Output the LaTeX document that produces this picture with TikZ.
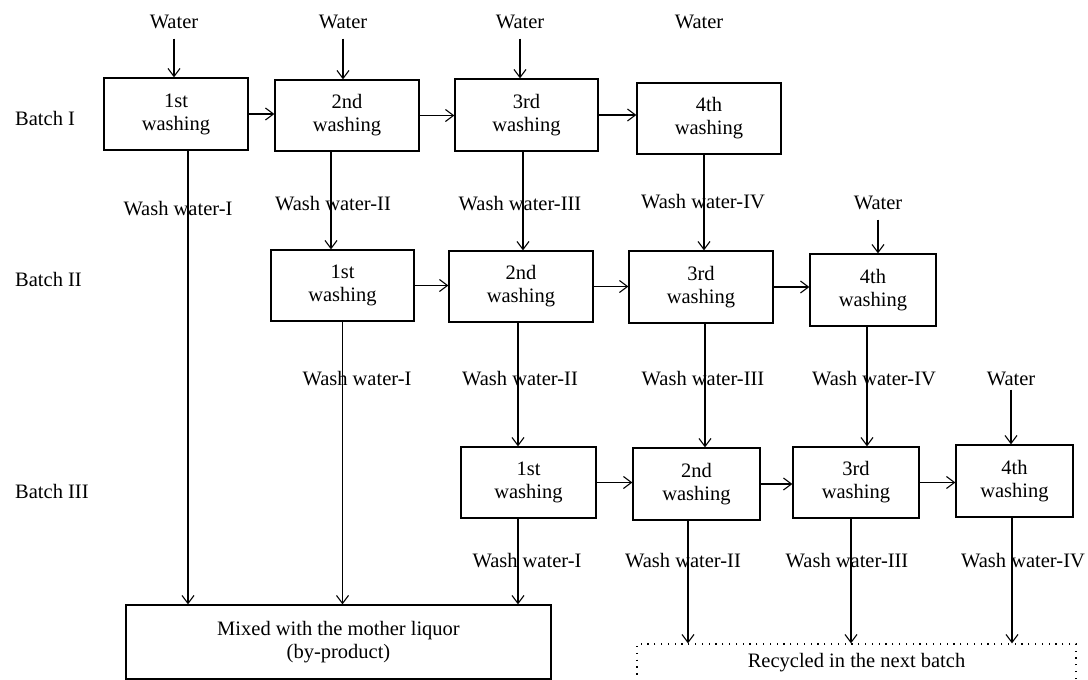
\documentclass[tikz,border=0pt]{standalone}
\usepackage{fontspec}
\setmainfont{Liberation Serif}
\usetikzlibrary{arrows.meta}
\begin{document}
\begin{tikzpicture}[x=1pt,y=-1pt,
  every node/.style={font=\fontsize{20.5}{23}\selectfont},
  wbox/.style={draw, line width=1.3pt, align=center, inner sep=0pt},
  recbox/.style={draw, line width=1.3pt, dash pattern=on 1.3pt off 5.5pt, align=center, inner sep=0pt},
  lbl/.style={anchor=base, inner sep=0pt},
  arr/.style={line width=1.1pt, -{Straight Barb[length=8pt,width=12pt]}},
  ln/.style={line width=1.1pt}]
\useasboundingbox (0,0) rectangle (1088,680);
\clip (0,0) rectangle (1088,680);

% batch labels
\node[anchor=base west, inner sep=0pt] (bI) at (15,125) {Batch I};
\node[anchor=base west, inner sep=0pt] (bII) at (15,286) {Batch II};
\node[anchor=base west, inner sep=0pt] (bIII) at (15,498) {Batch III};

% row 1
\node[wbox, minimum width=144pt, minimum height=72pt] (b11) at (176,114) {1st\\washing};
\node[wbox, minimum width=144pt, minimum height=71pt] (b12) at (347,115.5) {2nd\\washing};
\node[wbox, minimum width=143pt, minimum height=72pt] (b13) at (526.5,115) {3rd\\washing};
\node[wbox, minimum width=144pt, minimum height=71pt] (b14) at (709,118.5) {4th\\washing};
% row 2
\node[wbox, minimum width=143pt, minimum height=71pt] (b21) at (342.5,285.5) {1st\\washing};
\node[wbox, minimum width=144pt, minimum height=71pt] (b22) at (521,286.5) {2nd\\washing};
\node[wbox, minimum width=144pt, minimum height=72pt] (b23) at (701,287) {3rd\\washing};
\node[wbox, minimum width=126pt, minimum height=72pt] (b24) at (873,290) {4th\\washing};
% row 3
\node[wbox, minimum width=135pt, minimum height=71pt] (b31) at (528.5,482.5) {1st\\washing};
\node[wbox, minimum width=127pt, minimum height=72pt] (b32) at (696.5,484) {2nd\\washing};
\node[wbox, minimum width=126pt, minimum height=71pt] (b33) at (856,482.5) {3rd\\washing};
\node[wbox, minimum width=117pt, minimum height=72pt] (b34) at (1014.5,481) {4th\\washing};
% sinks
\node[wbox, minimum width=425pt, minimum height=74pt] (mix) at (338.5,642) {Mixed with the mother liquor\\(by-product)};
\node[recbox, minimum width=439pt, minimum height=38pt] (rec) at (856.5,663) {Recycled in the next batch};

% water labels
\node[lbl] (w1) at (174,28) {Water};
\node[lbl] (w2) at (343,28) {Water};
\node[lbl] (w3) at (520,28) {Water};
\node[lbl] (w4) at (699,28) {Water};
\node[lbl] (w5) at (878,209) {Water};
\node[lbl] (w6) at (1011,385) {Water};

% wash water labels
\node[lbl] (ww11) at (178,215) {Wash water-I};
\node[lbl] (ww12) at (333,210) {Wash water-II};
\node[lbl] (ww13) at (520,210) {Wash water-III};
\node[lbl] (ww14) at (703,208) {Wash water-IV};
\node[lbl] (ww21) at (357,385) {Wash water-I};
\node[lbl] (ww22) at (520,385) {Wash water-II};
\node[lbl] (ww23) at (703,385) {Wash water-III};
\node[lbl] (ww24) at (874,385) {Wash water-IV};
\node[lbl] (ww31) at (527,567) {Wash water-I};
\node[lbl] (ww32) at (683,567) {Wash water-II};
\node[lbl] (ww33) at (847,567) {Wash water-III};
\node[lbl] (ww34) at (1023,567) {Wash water-IV};

% water inflows
\draw[arr, shorten <=10pt] (w1.south) -- (w1.south |- b11.north);
\draw[arr, shorten <=10pt] (w2.south) -- (w2.south |- b12.north);
\draw[arr, shorten <=10pt] (w3.south) -- (w3.south |- b13.north);
\draw[arr, shorten <=10pt] (w5.south) -- (w5.south |- b24.north);
\draw[arr, shorten <=4pt] (w6.south) -- (w6.south |- b34.north);

% horizontal flow
\draw[arr] (b11.east) -- (b11.east -| b12.west);
\draw[arr] (b12.east) -- (b12.east -| b13.west);
\draw[arr] (b13.east) -- (b13.east -| b14.west);
\draw[arr] (b21.east) -- (b21.east -| b22.west);
\draw[arr] (b22.east) -- (b22.east -| b23.west);
\draw[arr] (b23.east) -- (b23.east -| b24.west);
\draw[arr] (b31.east) -- (b31.east -| b32.west);
\draw[arr] (b32.east) -- (b32.east -| b33.west);
\draw[arr] (b33.east) -- (b33.east -| b34.west);

% wash water outflows
\draw[arr] ([xshift=12pt]b11.south) -- ([xshift=12pt]b11.south |- mix.north);
\draw[arr] ([xshift=-16pt]b12.south) -- ([xshift=-16pt]b12.south |- b21.north);
\draw[arr] ([xshift=-3.5pt]b13.south) -- ([xshift=-3.5pt]b13.south |- b22.north);
\draw[arr] ([xshift=-5pt]b14.south) -- ([xshift=-5pt]b14.south |- b23.north);
\draw[arr] (b21.south) -- (b21.south |- mix.north);
\draw[arr] ([xshift=-3pt]b22.south) -- ([xshift=-3pt]b22.south |- b31.north);
\draw[arr] ([xshift=4pt]b23.south) -- ([xshift=4pt]b23.south |- b32.north);
\draw[arr] ([xshift=-6pt]b24.south) -- ([xshift=-6pt]b24.south |- b33.north);
\draw[arr] ([xshift=-10.5pt]b31.south) -- ([xshift=-10.5pt]b31.south |- mix.north);
\draw[arr] ([xshift=-8.5pt]b32.south) -- ([xshift=-8.5pt]b32.south |- rec.north);
\draw[arr] ([xshift=-5pt]b33.south) -- ([xshift=-5pt]b33.south |- rec.north);
\draw[arr] ([xshift=-2.5pt]b34.south) -- ([xshift=-2.5pt]b34.south |- rec.north);
\end{tikzpicture}
\end{document}
